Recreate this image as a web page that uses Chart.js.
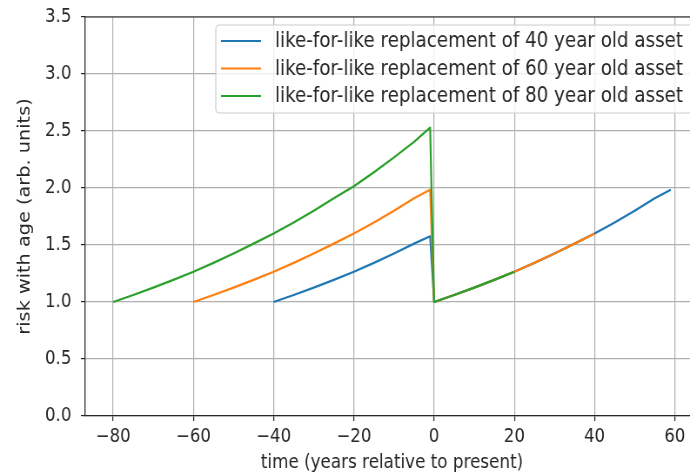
<!DOCTYPE html>
<html>
<head>
<meta charset="utf-8">
<script src="https://cdn.jsdelivr.net/npm/chart.js@4.4.1/dist/chart.umd.min.js"></script>
<style>
    html, body { margin: 0; padding: 0; background: #fff; overflow: hidden; width: 690px; height: 475px; }
    /* the original picture is squeezed sideways, so the canvas is too */
    #myChart { transform: scaleX(0.8701); transform-origin: 0 0; display: block; }
</style>
</head>
<body>
<canvas id="myChart" width="803" height="475" style="width:803px;height:475px"></canvas>
<script>
// values
const seriesLabels = [
    'like-for-like replacement of 40 year old asset',
    'like-for-like replacement of 60 year old asset',
    'like-for-like replacement of 80 year old asset'
];
const seriesColors = ['#1f77b4', '#ff7f0e', '#2ca02c'];

const timeBlue = [-40, -35, -30, -25, -20, -15, -10, -5, -1,
                  0, 5, 10, 15, 20, 25, 30, 35, 40, 45, 50, 55, 59];
const riskBlue = [1.000, 1.061, 1.126, 1.194, 1.266, 1.343, 1.425, 1.512, 1.576,
                  1.000, 1.061, 1.126, 1.194, 1.266, 1.343, 1.425, 1.512, 1.600, 1.698, 1.800, 1.910, 1.985];

const timeOrange = [-60, -55, -50, -45, -40, -35, -30, -25, -20, -15, -10, -5, -1,
                    0, 5, 10, 15, 20, 25, 30, 35, 40];
const riskOrange = [1.000, 1.061, 1.126, 1.194, 1.266, 1.343, 1.425, 1.512, 1.600, 1.698, 1.800, 1.910, 1.985,
                    1.000, 1.061, 1.126, 1.194, 1.266, 1.343, 1.425, 1.512, 1.600];

const timeGreen = [-80, -75, -70, -65, -60, -55, -50, -45, -40, -35, -30, -25, -20, -15, -10, -5, -1,
                   0, 5, 10, 15, 20];
const riskGreen = [1.000, 1.061, 1.126, 1.194, 1.266, 1.343, 1.425, 1.512, 1.600, 1.698, 1.800, 1.910, 2.015, 2.138, 2.268, 2.405, 2.530,
                   1.000, 1.061, 1.126, 1.194, 1.266];

const xTicks = [-80, -60, -40, -20, 0, 20, 40, 60];
const yTicks = [0, 0.5, 1, 1.5, 2, 2.5, 3, 3.5];

const textColor = '#262626';
const tickFont = { family: 'DejaVu Sans', size: 19 };
const titleFont = { family: 'DejaVu Sans', size: 19.3 };

function toPoints(xs, ys) {
    return xs.map((x, i) => ({ x: x, y: ys[i] }));
}

const allTimes = [timeBlue, timeOrange, timeGreen];
const allRisks = [riskBlue, riskOrange, riskGreen];

const datasets = seriesLabels.map((label, i) => ({
    label: label,
    data: toPoints(allTimes[i], allRisks[i]),
    borderColor: seriesColors[i],
    backgroundColor: seriesColors[i],
    borderWidth: 2.2,
    pointRadius: 0,
    fill: false,
    tension: 0,
    borderJoinStyle: 'round',
    order: 2 - i   // green drawn on top, like matplotlib
}));

// matplotlib-like legend box in upper right
const legendBox = {
    id: 'legendBox',
    afterDraw(chart) {
        const c = chart.ctx;
        const top = chart.chartArea.top;
        const x0 = 248, y0 = top + 8, w = 600, h = 88;
        c.save();
        c.beginPath();
        c.roundRect(x0, y0, w, h, 4);
        c.fillStyle = 'rgba(255,255,255,0.8)';
        c.fill();
        c.strokeStyle = '#cccccc';
        c.lineWidth = 1.2;
        c.stroke();
        c.font = '21px "DejaVu Sans"';
        c.textBaseline = 'middle';
        chart.data.datasets.forEach((d, i) => {
            const y = y0 + 16 + i * 27.5;
            c.beginPath();
            c.moveTo(x0 + 6, y);
            c.lineTo(x0 + 52, y);
            c.strokeStyle = d.borderColor;
            c.lineWidth = 2.2;
            c.stroke();
            c.fillStyle = textColor;
            c.fillText(d.label, x0 + 68, y + 1);
        });
        c.restore();
    }
};

// top spine
const topSpine = {
    id: 'topSpine',
    afterDatasetsDraw(chart) {
        const a = chart.chartArea;
        const c = chart.ctx;
        c.save();
        c.beginPath();
        c.moveTo(a.left, a.top);
        c.lineTo(a.right, a.top);
        c.strokeStyle = textColor;
        c.lineWidth = 1.2;
        c.stroke();
        c.restore();
    }
};

const ctx = document.getElementById('myChart').getContext('2d');
new Chart(ctx, {
    type: 'line',
    data: { datasets: datasets },
    options: {
        responsive: false,
        animation: false,
        devicePixelRatio: 1,
        layout: { padding: { top: 17, left: 0, right: 0, bottom: 0 } },
        plugins: {
            legend: { display: false },
            tooltip: { enabled: false }
        },
        scales: {
            x: {
                type: 'linear',
                min: -86.95,
                max: 65.95,
                afterBuildTicks: s => { s.ticks = xTicks.map(v => ({ value: v })); },
                afterFit: s => { s.height = 59; },
                ticks: {
                    callback: v => String(v).replace('-', '\u2212'),
                    color: textColor,
                    font: tickFont,
                    padding: 5,
                    maxRotation: 0
                },
                grid: { color: '#b0b0b0', lineWidth: 1.2, tickColor: textColor, tickLength: 5 },
                border: { color: textColor, width: 1.3 },
                title: {
                    display: true,
                    text: 'time (years relative to present)',
                    color: textColor,
                    font: titleFont,
                    padding: { top: 0, bottom: 0 }
                }
            },
            y: {
                type: 'linear',
                min: 0,
                max: 3.5,
                afterBuildTicks: s => { s.ticks = yTicks.map(v => ({ value: v })); },
                afterFit: s => { s.width = 98; s.paddingTop = 11; s.paddingBottom = 11; },
                ticks: {
                    callback: v => v.toFixed(1),
                    color: textColor,
                    font: tickFont,
                    padding: 11
                },
                grid: { color: '#b0b0b0', lineWidth: 1.2, tickColor: textColor, tickLength: 5 },
                border: { color: textColor, width: 1.3 },
                title: {
                    display: true,
                    text: 'risk with age (arb. units)',
                    color: textColor,
                    font: titleFont,
                    padding: { top: 17, bottom: 0 }
                }
            }
        }
    },
    plugins: [legendBox, topSpine]
});
</script>
</body>
</html>
